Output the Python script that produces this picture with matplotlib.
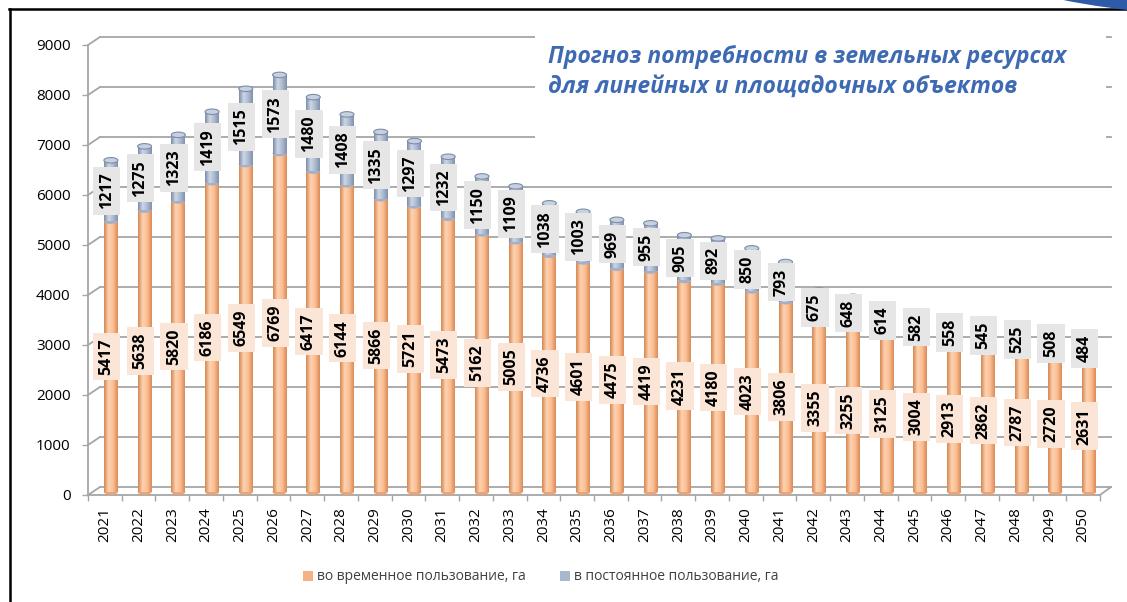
import numpy as np
import matplotlib.pyplot as plt
from matplotlib.colors import LinearSegmentedColormap
from matplotlib.patches import Ellipse, Patch, Rectangle
from matplotlib.lines import Line2D

years = [str(y) for y in range(2021, 2051)]
temp_use = [5417, 5638, 5820, 6186, 6549, 6769, 6417, 6144, 5866, 5721,
            5473, 5162, 5005, 4736, 4601, 4475, 4419, 4231, 4180, 4023,
            3806, 3355, 3255, 3125, 3004, 2913, 2862, 2787, 2720, 2631]
perm_use = [1217, 1275, 1323, 1419, 1515, 1573, 1480, 1408, 1335, 1297,
            1232, 1150, 1109, 1038, 1003, 969, 955, 905, 892, 850,
            793, 675, 648, 614, 582, 558, 545, 525, 508, 484]
yticks = list(range(0, 9001, 1000))

title1 = "Прогноз потребности в земельных ресурсах"
title2 = "для линейных и площадочных объектов"
leg_labels = ["во временное пользование, га", "в постоянное пользование, га"]

plt.rcParams['font.family'] = ['Open Sans', 'DejaVu Sans']

W, H = 1127, 602
fig = plt.figure(figsize=(W / 100, H / 100), dpi=100)
ax = fig.add_axes([88 / W, 107 / H, 1012 / W, 450 / H])
for s in ax.spines.values():
    s.set_visible(False)

# pixel -> data helpers (3d depth offsets)
dxp = 30 / 1012
dyp = 20
dep_x = 12 * dxp
dep_y = 8 * dyp
gcol = '#A6A6A6'

# back wall gridlines with perspective stub
for v in yticks:
    ax.plot([-0.5, -0.5 + dep_x], [v, v + dep_y], color=gcol, lw=1.3, clip_on=False, zorder=1)
    ax.plot([-0.5 + dep_x, 29.5 + 11 * dxp], [v + dep_y, v + dep_y], color=gcol, lw=1.3,
            clip_on=False, zorder=1)
ax.plot([-0.5, -0.5], [0, 9000], color=gcol, lw=1.3, clip_on=False, zorder=1)
ax.plot([-0.5, 29.5], [0, 0], color=gcol, lw=1.3, clip_on=False, zorder=1)
ax.plot([29.5, 29.5 + 11 * dxp], [0, dep_y], color=gcol, lw=1.3, clip_on=False, zorder=1)

# cylinders
orange_cm = LinearSegmentedColormap.from_list('o', ['#D6874F', '#FDD3B2', '#FBBE92', '#DB8C57'])
grey_cm = LinearSegmentedColormap.from_list('g', ['#7D8DA8', '#CDD6E5', '#ACBAD0', '#8191AB'])
grad = np.linspace(0, 1, 64).reshape(1, -1)

x = np.arange(len(years))
xb = x + 6 * dxp
bw = 14 * dxp
eh = 110
base = 60  # visual lift of the cylinders off the front edge

b1 = ax.bar(xb, temp_use, bottom=base, width=bw, color='#F6B183', zorder=2)
b2 = ax.bar(xb, perm_use, bottom=np.array(temp_use) + base, width=bw, color='#A9B7CC',
            zorder=2.2)

for bars, cm, z in [(b1, orange_cm, 2), (b2, grey_cm, 2.2)]:
    for p in bars:
        x0, y0, w, h = p.get_x(), p.get_y(), p.get_width(), p.get_height()
        im = ax.imshow(grad, cmap=cm, extent=(x0, x0 + w, y0, y0 + h), aspect='auto',
                       interpolation='bilinear', zorder=z)
        im.set_clip_path(p)

for i in range(len(years)):
    t = temp_use[i]
    tot = temp_use[i] + perm_use[i]
    ax.add_patch(Ellipse((xb[i], base), bw, eh, fc='#EFA373', ec='none', zorder=1.9))
    ax.add_patch(Ellipse((xb[i], t + base), bw, eh, fc='#A3B1C8', ec='none', zorder=2.1))
    ax.add_patch(Ellipse((xb[i], tot + base), bw, eh, fc='#C6D0E0', ec='#7D8DA8', lw=0.8,
                         zorder=2.3))
    ax.text(x[i] + 0.05, base + t / 2, str(t), rotation=90, ha='center', va='center',
            fontsize=11.5, fontweight='bold', color='black', zorder=5,
            bbox=dict(boxstyle='square,pad=0.35', fc='#FBE5D6', ec='none'))
    ax.text(x[i] + 0.05, base + t + perm_use[i] / 2, str(perm_use[i]), rotation=90,
            ha='center', va='center', fontsize=11.5, fontweight='bold', color='black',
            zorder=5, bbox=dict(boxstyle='square,pad=0.35', fc='#E7E6E6', ec='none'))

ax.set_xlim(-0.5, 29.5)
ax.set_ylim(0, 9000)
ax.set_yticks(yticks)
ax.set_yticklabels([str(v) for v in yticks], fontsize=11)
ax.tick_params(axis='y', direction='out', length=4.5, width=1, color=gcol, pad=8)
ax.set_xticks(x)
ax.set_xticklabels(years, rotation=90, fontsize=11)
ax.set_xticks(np.arange(-0.5, 30, 1), minor=True)
ax.tick_params(axis='x', which='major', length=0, pad=9)
ax.tick_params(axis='x', which='minor', direction='out', length=4.5, width=1, color=gcol)

# title box
fig.patches.append(Rectangle((535 / W, 1 - 142 / H), (1106 - 535) / W, (142 - 25) / H,
                             transform=fig.transFigure, fc='white', ec='none', zorder=1))
tkw = dict(ha='left', va='center', fontsize=16.5, fontweight='bold', style='italic',
           color='#3E6AB4', zorder=2)
fig.text(548 / W, 1 - 57 / H, title1, **tkw)
fig.text(548 / W, 1 - 87 / H, title2, **tkw)

# legend
handles = [Patch(fc='#F6B183', ec='none'), Patch(fc='#A9B7CC', ec='none')]
fig.legend(handles, leg_labels, loc='center', bbox_to_anchor=(541 / W, 25 / H), ncol=2,
           frameon=False, fontsize=10, handlelength=0.7, handleheight=0.7,
           handletextpad=0.3, columnspacing=2.5, labelcolor='#404040')

# slide frame
fig.add_artist(Line2D([8.5 / W, 1], [1 - 9 / H, 1 - 9 / H], color='black', lw=1.8,
                      transform=fig.transFigure))
fig.add_artist(Line2D([9.5 / W, 9.5 / W], [0, 1 - 9 / H], color='black', lw=1.8,
                      transform=fig.transFigure))
fig.patches.append(Ellipse((12.5, 6.62), 6.0, 1.534, fc='#2E5AA7', ec='none',
                           transform=fig.dpi_scale_trans, zorder=3))

fig.savefig('out.png', dpi=100)
